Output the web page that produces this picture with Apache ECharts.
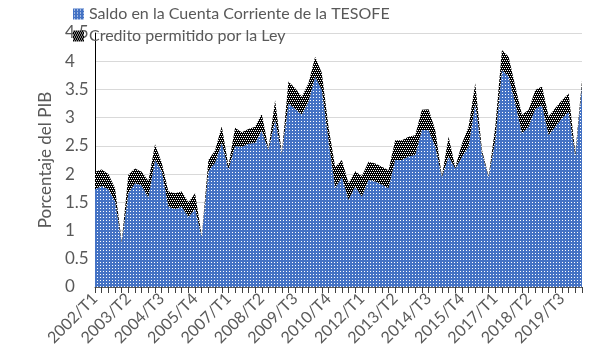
<!DOCTYPE html>
<html>
<head>
<meta charset="utf-8">
<script src="https://cdn.jsdelivr.net/npm/echarts@6/dist/echarts.min.js"></script>
<style>html,body{margin:0;padding:0;background:#fff}#c{width:600px;height:360px}</style>
</head>
<body>
<div id="c"></div>
<script>
const categories = [
 "2002/T1","2002/T2","2002/T3","2002/T4","2003/T1","2003/T2","2003/T3","2003/T4",
 "2004/T1","2004/T2","2004/T3","2004/T4","2005/T1","2005/T2","2005/T3","2005/T4",
 "2006/T1","2006/T2","2006/T3","2006/T4","2007/T1","2007/T2","2007/T3","2007/T4",
 "2008/T1","2008/T2","2008/T3","2008/T4","2009/T1","2009/T2","2009/T3","2009/T4",
 "2010/T1","2010/T2","2010/T3","2010/T4","2011/T1","2011/T2","2011/T3","2011/T4",
 "2012/T1","2012/T2","2012/T3","2012/T4","2013/T1","2013/T2","2013/T3","2013/T4",
 "2014/T1","2014/T2","2014/T3","2014/T4","2015/T1","2015/T2","2015/T3","2015/T4",
 "2016/T1","2016/T2","2016/T3","2016/T4","2017/T1","2017/T2","2017/T3","2017/T4",
 "2018/T1","2018/T2","2018/T3","2018/T4","2019/T1","2019/T2","2019/T3","2019/T4",
 "2020/T1","2020/T2"
];
const saldoTesofe = [
 1.73,1.79,1.73,1.52,0.78,1.66,1.84,1.80,1.58,2.25,2.05,1.42,1.38,1.42,1.24,1.38,
 0.88,2.05,2.20,2.55,2.08,2.50,2.48,2.54,2.55,2.77,2.42,2.96,2.35,3.25,3.16,3.05,
 3.28,3.73,3.49,2.60,1.75,1.95,1.54,1.78,1.60,1.90,1.87,1.81,1.75,2.25,2.25,2.31,
 2.34,2.78,2.78,2.49,1.94,2.31,2.10,2.30,2.49,3.25,2.37,1.94,2.60,3.84,3.73,3.25,
 2.72,2.84,3.16,3.22,2.69,2.84,2.99,3.10,2.31,3.55
];
const creditoLey = [
 0.31,0.29,0.27,0.23,0.02,0.33,0.26,0.24,0.30,0.28,0.15,0.27,0.28,0.27,0.26,0.28,
 0.02,0.20,0.22,0.30,0.07,0.32,0.26,0.26,0.29,0.30,0.03,0.35,0.02,0.39,0.36,0.32,
 0.33,0.35,0.30,0.24,0.37,0.30,0.30,0.27,0.36,0.32,0.32,0.32,0.32,0.35,0.35,0.35,
 0.35,0.36,0.37,0.29,0.02,0.35,0.02,0.24,0.35,0.36,0.06,0.02,0.24,0.36,0.35,0.30,
 0.33,0.30,0.33,0.33,0.33,0.33,0.32,0.33,0.06,0.11
];
const seriesNames = ["Saldo en la Cuenta Corriente de la TESOFE", "Credito permitido por la Ley"];
const yAxisName = "Porcentaje del PIB";

function makePattern(bg, fg, size, dots) {
  const c = document.createElement('canvas');
  c.width = size; c.height = size;
  const ctx = c.getContext('2d');
  ctx.fillStyle = bg; ctx.fillRect(0, 0, size, size);
  ctx.fillStyle = fg;
  dots.forEach(d => ctx.fillRect(d[0], d[1], 1, 1));
  return { image: c, repeat: 'repeat' };
}
const bluePat = makePattern('#4472C4', '#ffffff', 3, [[1, 1]]);
const blackPat = makePattern('#000000', '#ffffff', 4, [[0, 0], [2, 0], [1, 2], [3, 2]]);

const FONT = 'Lato';
const FS = 17;
const chart = echarts.init(document.getElementById('c'), null, { renderer: 'canvas' });
chart.setOption({
  animation: false,
  textStyle: { fontFamily: FONT },
  legend: {
    orient: 'vertical',
    left: 68, top: 1,
    itemWidth: 11, itemHeight: 11, itemGap: 6,
    icon: 'rect',
    z: 10,
    textStyle: { color: '#595959', fontSize: 16, fontFamily: FONT },
    data: [
      { name: seriesNames[0], itemStyle: { color: bluePat } },
      { name: seriesNames[1], itemStyle: { color: blackPat } }
    ]
  },
  grid: { left: 95, right: 18, top: 33, bottom: 73, containLabel: false },
  xAxis: {
    type: 'category',
    data: categories,
    boundaryGap: false,
    axisLine: { show: true, lineStyle: { color: '#595959' } },
    axisTick: { show: true, interval: 0, length: 6, lineStyle: { color: '#404040' } },
    axisLabel: { interval: 4, rotate: 45, color: '#595959', fontSize: 16, margin: 9, fontFamily: FONT },
    splitLine: { show: false }
  },
  yAxis: {
    type: 'value',
    min: 0, max: 4.5, interval: 0.5,
    name: yAxisName,
    nameLocation: 'middle',
    nameGap: 32,
    nameTextStyle: { color: '#595959', fontSize: FS, fontFamily: FONT },
    axisLine: { show: true, lineStyle: { color: '#000000' } },
    axisTick: { show: false },
    axisLabel: { color: '#595959', fontSize: FS, margin: 30, align: 'left', fontFamily: FONT },
    splitLine: { show: true, lineStyle: { color: '#d9d9d9', width: 1 } }
  },
  series: [
    {
      name: seriesNames[0], type: 'line', stack: 'total', data: saldoTesofe,
      showSymbol: false, symbol: 'none',
      lineStyle: { width: 0, opacity: 0 },
      itemStyle: { color: bluePat },
      areaStyle: { color: bluePat, opacity: 1 },
      z: 2
    },
    {
      name: seriesNames[1], type: 'line', stack: 'total', data: creditoLey,
      showSymbol: false, symbol: 'none',
      lineStyle: { width: 0, opacity: 0 },
      itemStyle: { color: blackPat },
      areaStyle: { color: blackPat, opacity: 1 },
      z: 2
    }
  ]
});
</script>
</body>
</html>
